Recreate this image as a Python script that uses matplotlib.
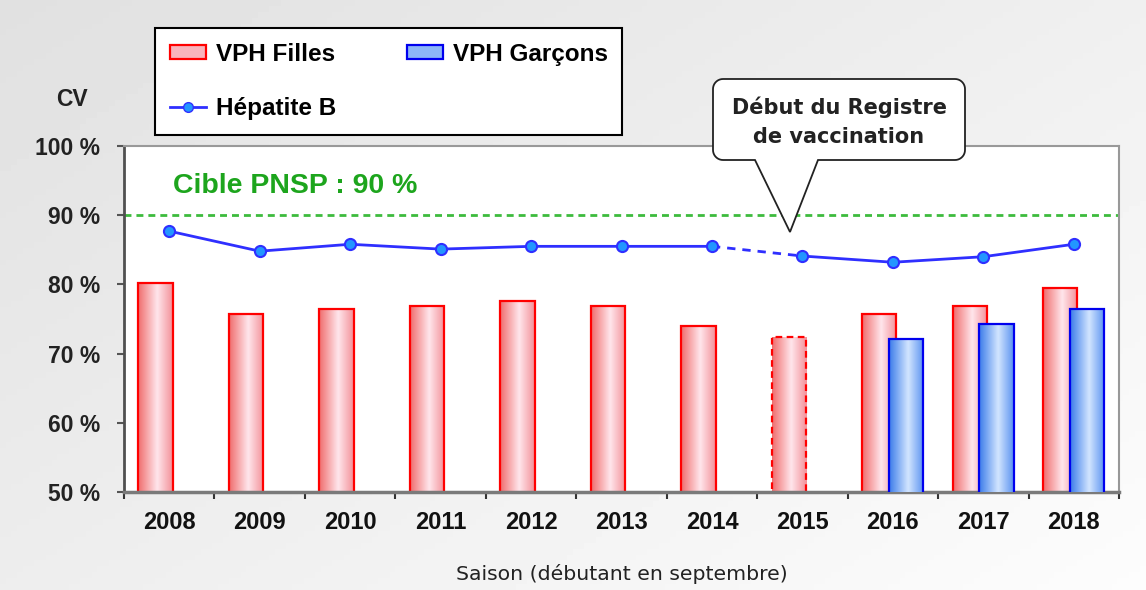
import numpy as np
import matplotlib.pyplot as plt
from matplotlib.colors import LinearSegmentedColormap
from matplotlib.patches import Polygon, Patch
from matplotlib.lines import Line2D

# --- data ---
saisons = ['2008', '2009', '2010', '2011', '2012', '2013', '2014', '2015', '2016', '2017', '2018']
vph_filles = [80.2, 75.7, 76.4, 76.9, 77.6, 76.9, 74.0, 72.4, 75.7, 76.9, 79.5]
garcons_saisons = ['2016', '2017', '2018']
vph_garcons = [72.1, 74.3, 76.4]
hep_b = [87.7, 84.8, 85.8, 85.1, 85.5, 85.5, 85.5, 84.1, 83.2, 84.0, 85.8]
cible = 90
registre_saison = '2015'   # first season of the registry (dashed bar / dashed line)
y_ticks = [50, 60, 70, 80, 90, 100]

W, H = 1146, 590
fig = plt.figure(figsize=(W / 100, H / 100), dpi=100)

# grey gradient background
bg = fig.add_axes([0, 0, 1, 1], zorder=-10)
gx, gy = np.meshgrid(np.linspace(0, 1, 200), np.linspace(0, 1, 100))
bg.imshow(0.88 + 0.06 * gx + 0.05 * gy, cmap='gray', vmin=0, vmax=1,
          extent=[0, 1, 0, 1], aspect='auto', origin='upper')
bg.axis('off')

ax = fig.add_axes([124 / W, 1 - 492 / H, 995 / W, 346 / H])
ax.set_facecolor('white')
ax.set_xlim(-0.5, len(saisons) - 0.5)
ax.set_ylim(y_ticks[0], y_ticks[-1])

x = np.arange(len(saisons))
xg = np.array([saisons.index(s) for s in garcons_saisons])
i_reg = saisons.index(registre_saison)

red_cmap = LinearSegmentedColormap.from_list(
    'r', [(0, '#F06C6C'), (0.55, '#FFE6EC'), (1, '#F39098')])
blue_cmap = LinearSegmentedColormap.from_list(
    'b', [(0, '#3A7BEA'), (0.55, '#D2E5FF'), (1, '#5A92F0')])


def fill_gradient(bars, cmap):
    grad = np.linspace(0, 1, 256).reshape(1, -1)
    ymin = ax.get_ylim()[0]
    for b in bars:
        bx, by = b.get_xy()
        im = ax.imshow(grad, extent=[bx, bx + b.get_width(), max(by, ymin), by + b.get_height()],
                       cmap=cmap, aspect='auto', zorder=b.get_zorder() - 0.1,
                       interpolation='bicubic')
        im.set_clip_path(b)


bw = 0.38
bars_f = ax.bar(x - 0.15, vph_filles, bw, facecolor='none', edgecolor='#FF0000',
                linewidth=1.6, zorder=2)
bars_f[i_reg].set_linestyle((0, (3, 2)))
fill_gradient(bars_f, red_cmap)

bars_g = ax.bar(xg + 0.145, vph_garcons, bw, facecolor='none', edgecolor='#0000EE',
                linewidth=1.6, zorder=3)
fill_gradient(bars_g, blue_cmap)

# target line
ax.axhline(cible, color='#3DBB3D', lw=2, dashes=(2.5, 1.8), zorder=1)
ax.text(0.04, 94.2, 'Cible PNSP : 90 %', color='#1DA51D', fontsize=20.5,
        fontweight='bold', family='Liberation Sans', va='center', ha='left')

# hepatitis B line: solid before / after registry, dashed across the change
hb = np.array(hep_b)
lc = '#2F2FFF'
ax.plot(x[:i_reg], hb[:i_reg], color=lc, lw=2, zorder=4)
ax.plot(x[i_reg - 1:i_reg + 1], hb[i_reg - 1:i_reg + 1], color=lc, lw=2,
        dashes=(3, 2.5), zorder=4)
ax.plot(x[i_reg:], hb[i_reg:], color=lc, lw=2, zorder=4)
ax.plot(x, hb, ls='none', marker='o', ms=8, mfc='#2296FF', mec='#2F2FFF', mew=1.5,
        zorder=5)

ax.set_yticks(y_ticks)
ax.set_yticklabels([f'{v} %' for v in y_ticks], fontsize=16.5, fontweight='bold',
                   family='Liberation Sans', color='#222222')
ax.set_xticks(x)
ax.set_xticklabels(saisons, fontsize=17, fontweight='bold', family='Liberation Sans',
                   color='#111111')
ax.set_xticks(np.arange(-0.5, len(saisons)), minor=True)
ax.tick_params(axis='x', which='major', length=0, pad=14)
ax.tick_params(axis='x', which='minor', length=5, width=1.5, color='#333333')
ax.tick_params(axis='y', length=5, width=1.5, color='#555555', pad=12)

ax.spines['left'].set_color('#505050')
ax.spines['left'].set_linewidth(2)
ax.spines['bottom'].set_color('#7A7A7A')
ax.spines['bottom'].set_linewidth(2.5)
for s in ('top', 'right'):
    ax.spines[s].set_color('#999999')
    ax.spines[s].set_linewidth(1.5)

ax.set_xlabel('Saison (débutant en septembre)', fontsize=14.7, family='DejaVu Sans',
              color='#222222', labelpad=21)
fig.text(72 / W, 1 - 100 / H, 'CV', fontsize=16.5, fontweight='bold',
         family='Liberation Sans', ha='center', va='center', color='#222222')

# legend
handles = [
    Patch(facecolor='#F9B4BC', edgecolor='#FF0000', linewidth=1.6, label='VPH Filles'),
    Line2D([], [], color=lc, lw=2, marker='o', ms=7, mfc='#2296FF', mec='#2F2FFF',
           label='Hépatite B'),
    Patch(facecolor='#8DB7F8', edgecolor='#0000EE', linewidth=1.6, label='VPH Garçons'),
]
leg = fig.legend(handles=handles, ncol=2, loc='upper left',
                 bbox_to_anchor=(155 / W, 1 - 28 / H), borderaxespad=0,
                 prop={'family': 'Liberation Sans', 'weight': 'bold', 'size': 17.5},
                 frameon=True, fancybox=False, edgecolor='black', framealpha=1,
                 handlelength=1.5, handleheight=0.5, handletextpad=0.4,
                 columnspacing=2.9, labelspacing=1.3, borderpad=0.6)
leg.get_frame().set_linewidth(1.5)

# callout "Début du Registre de vaccination" (pixel coordinates from top-left)
l, r, t, b, rad = 713, 965, 79, 160, 10
pts = []
for cx, cy, a0 in [(r - rad, t + rad, -90), (r - rad, b - rad, 0),
                   (l + rad, b - rad, 90), (l + rad, t + rad, 180)]:
    ang = np.radians(np.linspace(a0, a0 + 90, 10))
    pts += list(zip(cx + rad * np.cos(ang), cy + rad * np.sin(ang)))
    if a0 == 0:
        pts += [(818, b), (790, 232), (755, b)]
pts = np.array(pts)
poly = Polygon(np.column_stack([pts[:, 0] / W, 1 - pts[:, 1] / H]), closed=True,
               transform=fig.transFigure, facecolor='white', edgecolor='#222222',
               linewidth=1.3, zorder=10)
fig.patches.append(poly)
fig.text(839 / W, 1 - 122 / H, 'Début du Registre\nde vaccination', fontsize=15,
         fontweight='bold', family='DejaVu Sans', ha='center', va='center',
         linespacing=1.55, color='#222222', zorder=11)

fig.savefig('out.png', dpi=100)
